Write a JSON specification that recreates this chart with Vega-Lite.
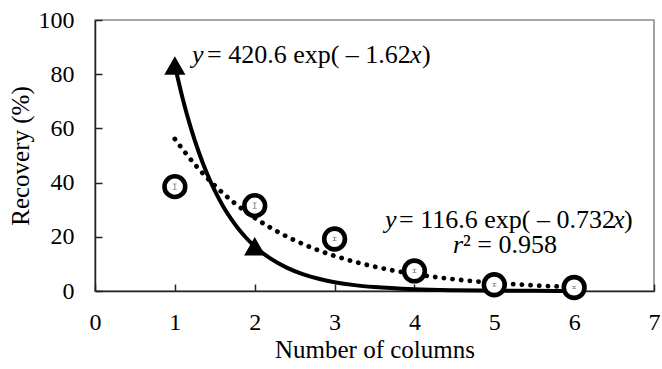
{
  "$schema": "https://vega.github.io/schema/vega-lite/v6.json",
  "width": 559,
  "height": 271,
  "autosize": "none",
  "padding": {"left": 95, "top": 20, "right": 8, "bottom": 78},
  "background": "white",
  "config": {
    "view": {"stroke": "#8a8a8a", "strokeWidth": 1.6},
    "axis": {
      "labelFont": "Liberation Serif",
      "titleFont": "Liberation Serif",
      "labelFontSize": 24,
      "titleFontSize": 25,
      "labelColor": "black",
      "titleColor": "black",
      "titleFontWeight": "normal",
      "domainColor": "#222",
      "domainWidth": 1.5,
      "tickColor": "#222",
      "tickWidth": 1.5,
      "tickSize": -7,
      "grid": false
    },
    "text": {"font": "Liberation Serif", "fontSize": 26, "color": "black"}
  },
  "datasets": {
    "circles": [
      {"n": 1, "rec": 38.5, "lo": 37.5, "hi": 39.5},
      {"n": 2, "rec": 31.5, "lo": 30.5, "hi": 32.5},
      {"n": 3, "rec": 19.2, "lo": 18.6, "hi": 19.8},
      {"n": 4, "rec": 7.4, "lo": 6.8, "hi": 8.0},
      {"n": 5, "rec": 2.3, "lo": 1.8, "hi": 2.8},
      {"n": 6, "rec": 1.3, "lo": 0.9, "hi": 1.7}
    ],
    "triangles": [
      {"n": 1, "rec": 83.2},
      {"n": 2, "rec": 16.5}
    ],
    "fitSolid": [
      {"n": 1.0, "rec": 83.24}, {"n": 1.1, "rec": 70.79}, {"n": 1.2, "rec": 60.2},
      {"n": 1.3, "rec": 51.2}, {"n": 1.4, "rec": 43.54}, {"n": 1.5, "rec": 37.03},
      {"n": 1.6, "rec": 31.49}, {"n": 1.7, "rec": 26.78}, {"n": 1.8, "rec": 22.78},
      {"n": 1.9, "rec": 19.37}, {"n": 2.0, "rec": 16.47}, {"n": 2.2, "rec": 11.92},
      {"n": 2.4, "rec": 8.62}, {"n": 2.6, "rec": 6.23}, {"n": 2.8, "rec": 4.51},
      {"n": 3.0, "rec": 3.26}, {"n": 3.25, "rec": 2.17}, {"n": 3.5, "rec": 1.45},
      {"n": 4.0, "rec": 0.65}, {"n": 4.5, "rec": 0.29}, {"n": 5.0, "rec": 0.13},
      {"n": 5.5, "rec": 0.06}, {"n": 6.0, "rec": 0.03}
    ],
    "fitDotted": [
      {"n": 1.0, "rec": 56.08}, {"n": 1.25, "rec": 46.7}, {"n": 1.5, "rec": 38.89},
      {"n": 1.75, "rec": 32.39}, {"n": 2.0, "rec": 26.97}, {"n": 2.25, "rec": 22.46},
      {"n": 2.5, "rec": 18.7}, {"n": 2.75, "rec": 15.58}, {"n": 3.0, "rec": 12.97},
      {"n": 3.5, "rec": 9.0}, {"n": 4.0, "rec": 6.24}, {"n": 4.5, "rec": 4.33},
      {"n": 5.0, "rec": 3.0}, {"n": 5.5, "rec": 2.08}, {"n": 6.0, "rec": 1.44}
    ],
    "annItalic": [
      {"t": "y", "n": 1.215, "rec": 84.1},
      {"t": "x", "n": 3.944, "rec": 84.1},
      {"t": "y", "n": 3.631, "rec": 23.2},
      {"t": "x", "n": 6.486, "rec": 23.2},
      {"t": "r", "n": 4.483, "rec": 14.1}
    ],
    "annRegular": [
      {"t": "= 420.6 exp( – 1.62", "n": 1.4025, "rec": 84.1},
      {"t": ")", "n": 4.095, "rec": 84.1},
      {"t": "= 116.6 exp( – 0.732", "n": 3.807, "rec": 23.2},
      {"t": ")", "n": 6.624, "rec": 23.2},
      {"t": "² = 0.958", "n": 4.608, "rec": 14.1}
    ]
  },
  "encoding": {
    "x": {
      "field": "n", "type": "quantitative",
      "scale": {"domain": [0, 7], "nice": false, "zero": false},
      "axis": {"values": [0, 1, 2, 3, 4, 5, 6, 7], "title": "Number of columns", "labelPadding": 26, "titlePadding": 3, "labelFlush": false}
    },
    "y": {
      "field": "rec", "type": "quantitative",
      "scale": {"domain": [0, 100], "nice": false},
      "axis": {"values": [0, 20, 40, 60, 80, 100], "title": "Recovery (%)", "labelPadding": 28, "titlePadding": 5, "labelFlush": false}
    }
  },
  "layer": [
    {
      "data": {"name": "fitDotted"},
      "mark": {"type": "line", "color": "black", "strokeWidth": 4.8, "strokeDash": [0.1, 8.6], "strokeCap": "round", "interpolate": "monotone"}
    },
    {
      "data": {"name": "fitSolid"},
      "mark": {"type": "line", "color": "black", "strokeWidth": 4, "interpolate": "monotone"}
    },
    {
      "data": {"name": "circles"},
      "mark": {"type": "point", "shape": "circle", "size": 430, "filled": false, "fill": "white", "fillOpacity": 1, "stroke": "black", "strokeWidth": 4.6, "opacity": 1}
    },
    {
      "data": {"name": "circles"},
      "mark": {"type": "rule", "color": "#666", "strokeWidth": 0.8},
      "encoding": {"y": {"field": "lo", "type": "quantitative"}, "y2": {"field": "hi"}}
    },
    {
      "data": {"name": "circles"},
      "mark": {"type": "tick", "orient": "horizontal", "color": "#666", "size": 4, "thickness": 0.8},
      "encoding": {"y": {"field": "lo", "type": "quantitative"}}
    },
    {
      "data": {"name": "circles"},
      "mark": {"type": "tick", "orient": "horizontal", "color": "#666", "size": 4, "thickness": 0.8},
      "encoding": {"y": {"field": "hi", "type": "quantitative"}}
    },
    {
      "data": {"name": "triangles"},
      "mark": {"type": "point", "shape": "triangle-up", "size": 450, "filled": true, "color": "black", "opacity": 1}
    },
    {
      "data": {"name": "annItalic"},
      "mark": {"type": "text", "align": "left", "baseline": "alphabetic", "fontStyle": "italic"},
      "encoding": {"text": {"field": "t"}}
    },
    {
      "data": {"name": "annRegular"},
      "mark": {"type": "text", "align": "left", "baseline": "alphabetic"},
      "encoding": {"text": {"field": "t"}}
    }
  ]
}
